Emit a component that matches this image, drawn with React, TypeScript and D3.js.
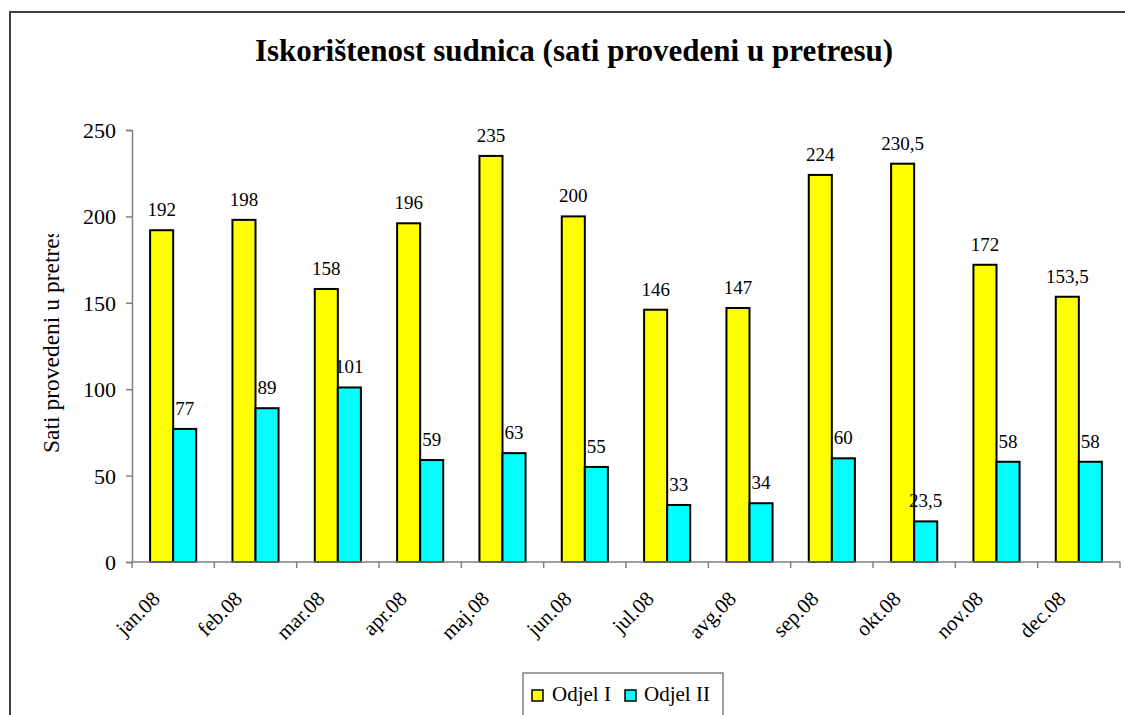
import { useEffect, useRef } from 'react';
import * as d3 from 'd3';

// Chart data
const MONTHS = ['jan.08', 'feb.08', 'mar.08', 'apr.08', 'maj.08', 'jun.08', 'jul.08', 'avg.08', 'sep.08', 'okt.08', 'nov.08', 'dec.08'];
const SERIES = ['Odjel I', 'Odjel II'];
const ODJEL_I = [192, 198, 158, 196, 235, 200, 146, 147, 224, 230.5, 172, 153.5];
const ODJEL_II = [77, 89, 101, 59, 63, 55, 33, 34, 60, 23.5, 58, 58];
const Y_TICKS = [0, 50, 100, 150, 200, 250];

const COLORS = ['#FFFF00', '#00FFFF'];
const FONT = '"Liberation Serif", "Times New Roman", serif';
const AXIS_COLOR = '#808080';

export default function App() {
  const ref = useRef<SVGSVGElement>(null);

  useEffect(() => {
    if (!ref.current) return;
    const svg = d3.select(ref.current);
    svg.selectAll('*').remove();

    const width = 1125;
    const height = 715;
    const left = 132, right = 1120, top = 130, bottom = 562;

    // outer frame
    svg.append('rect')
      .attr('x', 10).attr('y', 12)
      .attr('width', width + 40).attr('height', height + 40)
      .attr('fill', 'white')
      .attr('stroke', '#404040')
      .attr('stroke-width', 2);

    // title
    svg.append('text')
      .attr('x', 574).attr('y', 61)
      .attr('text-anchor', 'middle')
      .attr('font-family', FONT)
      .attr('font-weight', 'bold')
      .attr('font-size', 31)
      .text('Iskorištenost sudnica (sati provedeni u pretresu)');

    const x0 = d3.scaleBand<string>().domain(MONTHS).range([left, right]).padding(0);
    const bw = x0.bandwidth();
    const x1 = d3.scaleBand<string>().domain(SERIES).range([bw * 0.22, bw * 0.78]).padding(0);
    const y = d3.scaleLinear().domain([0, 250]).range([bottom, top]);

    // y axis
    const yAxis = svg.append('g')
      .attr('transform', `translate(${left},0)`)
      .call(d3.axisLeft(y).tickValues(Y_TICKS).tickSize(6).tickPadding(10).tickFormat(d3.format('d')));
    yAxis.select('.domain').attr('stroke', AXIS_COLOR).attr('stroke-width', 1.5);
    yAxis.selectAll('.tick line').attr('stroke', AXIS_COLOR).attr('stroke-width', 1.5);
    yAxis.selectAll('.tick text')
      .attr('font-family', FONT).attr('font-size', 22).attr('fill', 'black')
      .attr('dy', '0.34em');

    // y axis title, cut off at the top like the original
    svg.append('clipPath').attr('id', 'ytitle-clip')
      .append('rect').attr('x', 0).attr('y', 234).attr('width', 120).attr('height', 260);
    svg.append('g')
      .attr('clip-path', 'url(#ytitle-clip)')
      .append('text')
      .attr('transform', `translate(59,453) rotate(-90)`)
      .attr('font-family', FONT)
      .attr('font-size', 23.5)
      .text('Sati provedeni u pretresu');

    // bars
    const rows = MONTHS.map((m, i) => ({ month: m, values: [ODJEL_I[i], ODJEL_II[i]] }));
    const fmt = (v: number) => String(v).replace('.', ',');

    const groups = svg.append('g')
      .selectAll('g')
      .data(rows)
      .join('g')
      .attr('transform', d => `translate(${x0(d.month)},0)`);

    groups.selectAll('rect')
      .data(d => d.values.map((v, k) => ({ key: SERIES[k], v, k })))
      .join('rect')
      .attr('x', d => x1(d.key)!)
      .attr('y', d => y(d.v))
      .attr('width', x1.bandwidth())
      .attr('height', d => bottom - y(d.v))
      .attr('fill', d => COLORS[d.k])
      .attr('stroke', 'black')
      .attr('stroke-width', 2);

    groups.selectAll('text')
      .data(d => d.values.map((v, k) => ({ key: SERIES[k], v, k })))
      .join('text')
      .attr('x', d => x1(d.key)! + x1.bandwidth() / 2)
      .attr('y', d => y(d.v) - 14)
      .attr('text-anchor', 'middle')
      .attr('font-family', FONT)
      .attr('font-size', 19)
      .text(d => fmt(d.v));

    // x axis
    const xAxis = svg.append('g').attr('transform', `translate(0,${bottom})`);
    xAxis.append('line')
      .attr('x1', left).attr('x2', right)
      .attr('stroke', AXIS_COLOR).attr('stroke-width', 1.5);
    xAxis.selectAll('line.tick')
      .data(d3.range(MONTHS.length + 1))
      .join('line')
      .attr('class', 'tick')
      .attr('x1', i => left + i * bw).attr('x2', i => left + i * bw)
      .attr('y1', 0).attr('y2', 6)
      .attr('stroke', AXIS_COLOR).attr('stroke-width', 1.5);

    svg.append('g')
      .selectAll('text')
      .data(MONTHS)
      .join('text')
      .attr('transform', m => `translate(${x0(m)! + bw / 2 - 12},${bottom + 38}) rotate(-45)`)
      .attr('text-anchor', 'end')
      .attr('font-family', FONT)
      .attr('font-size', 21)
      .text(m => m);

    // legend
    const legend = svg.append('g');
    legend.append('rect')
      .attr('x', 523).attr('y', 673)
      .attr('width', 200).attr('height', 60)
      .attr('fill', 'white')
      .attr('stroke', AXIS_COLOR).attr('stroke-width', 1.5);
    const items = [{ x: 532, tx: 552 }, { x: 625, tx: 644 }];
    SERIES.forEach((s, i) => {
      legend.append('rect')
        .attr('x', items[i].x).attr('y', 690)
        .attr('width', 11).attr('height', 11)
        .attr('fill', COLORS[i])
        .attr('stroke', 'black').attr('stroke-width', 1.5);
      legend.append('text')
        .attr('x', items[i].tx).attr('y', 701)
        .attr('font-family', FONT)
        .attr('font-size', 21)
        .text(s);
    });
  }, []);

  return (
    <svg
      ref={ref}
      width={1125}
      height={715}
      style={{ position: 'absolute', left: 0, top: 0, display: 'block', background: 'white' }}
    />
  );
}
